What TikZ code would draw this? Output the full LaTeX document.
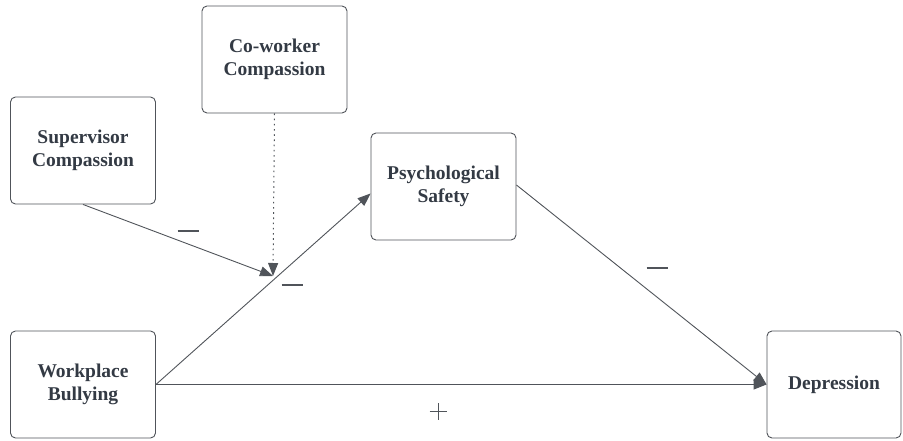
\documentclass[tikz,border=0pt]{standalone}
\usepackage{fontspec}
\setmainfont{Liberation Serif}
\usetikzlibrary{arrows.meta}
\definecolor{ink}{HTML}{333A44}
\definecolor{edge}{HTML}{50545A}
\tikzset{
  x=1pt, y=-1pt,
  box/.style={draw=edge, line width=0.9pt, rounded corners=5pt, fill=white,
    minimum width=145pt, minimum height=107pt, inner sep=0pt,
    align=center, text=ink, font=\fontsize{19.5}{23}\selectfont\bfseries},
  conn/.style={draw=edge, line width=0.9pt, -{Triangle[length=13pt,width=10pt]}},
  dotconn/.style={conn, dash pattern=on 1.6pt off 3.6pt, line width=1pt},
  sign/.style={text=edge, inner sep=0pt}
}
\begin{document}
\begin{tikzpicture}
\useasboundingbox (0,0) rectangle (903,441);
\node[box] (sup) at (83,150.5) {Supervisor\\Compassion};
\node[box] (cow) at (274.5,59.5) {Co-worker\\Compassion};
\node[box] (psy) at (443.5,186.5) {Psychological\\Safety};
\node[box] (bul) at (83,384.5) {Workplace\\Bullying};
\node[box, minimum width=134pt] (dep) at (834,384.5) {Depression};
\coordinate (m) at (273,276);
\draw[conn] (bul.east) -- ([yshift=-7pt]psy.west);
\draw[conn] (bul.east) -- (dep.west);
\draw[conn] ([yshift=1.5pt]psy.east) -- (dep.west);
\draw[conn] (sup.south) -- (m);
\draw[dotconn] (cow.south) -- (m);
\node[sign] (s1) at (188,231) {\rule{21pt}{1.1pt}};
\node[sign] (s2) at (292,285) {\rule{21pt}{1.1pt}};
\node[sign] (s3) at (657,268) {\rule{21pt}{1.1pt}};
\node[sign] (s4) at (438,411) {\rule[8pt]{17pt}{0.9pt}\kern-9pt\rule{0.9pt}{17pt}\kern8pt};
\end{tikzpicture}
\end{document}
